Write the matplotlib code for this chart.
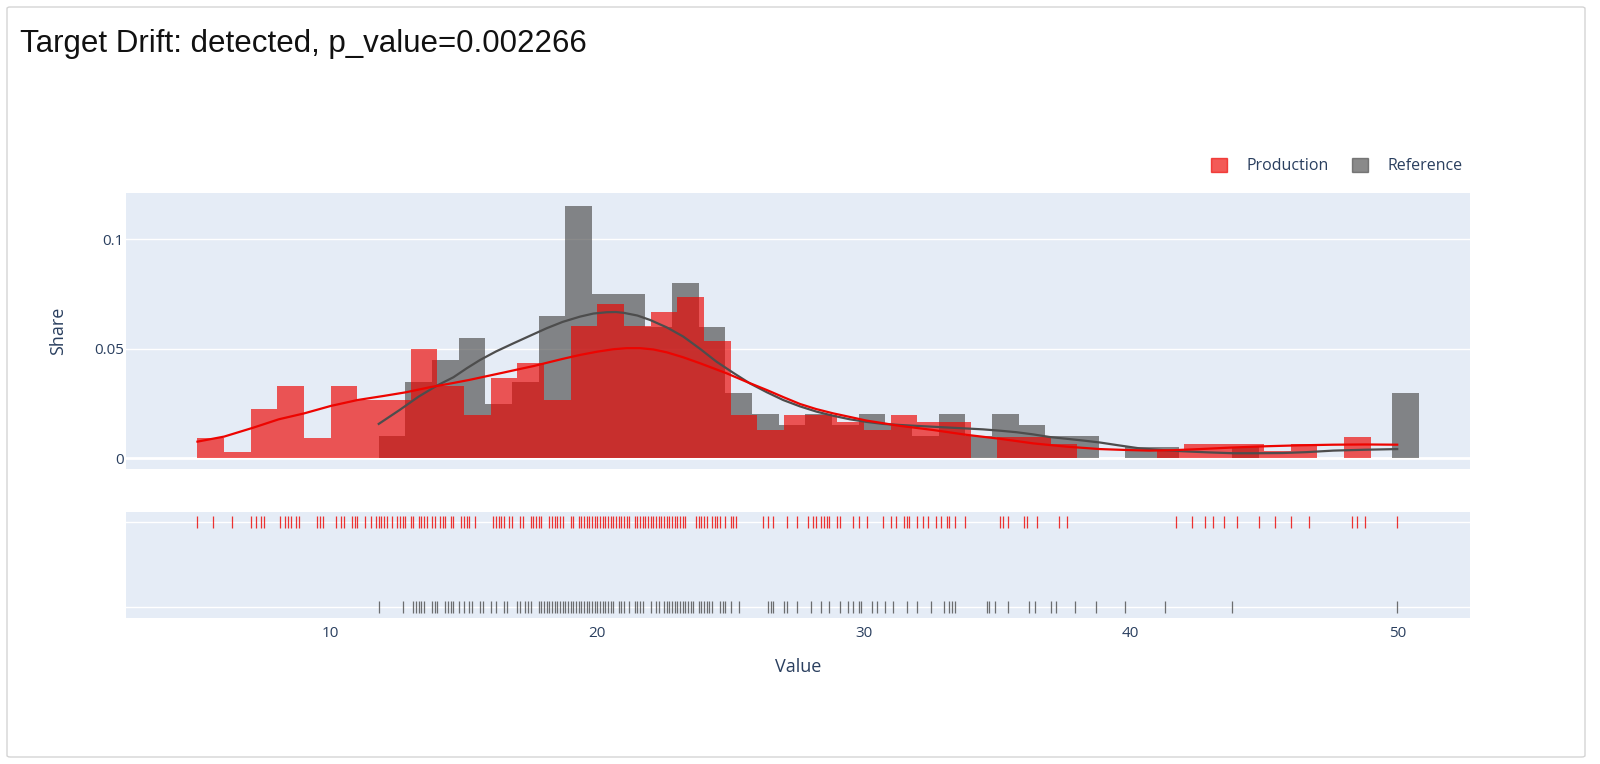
import numpy as np
import matplotlib
matplotlib.use('Agg')
import matplotlib.pyplot as plt
from matplotlib.patches import Patch, FancyBboxPatch

# histogram shares, bins of width 1
aEdge_production = [5, 6, 7, 8, 9, 10, 11, 12, 13, 14, 15, 16, 17, 18, 19, 20, 21, 22,
                    23, 24, 25, 26, 27, 28, 29, 30, 31, 32, 33, 34, 35, 36, 37, 38, 39,
                    40, 41, 42, 43, 44, 45, 46, 47, 48, 49]
aShare_production = [0.0094, 0.0029, 0.0227, 0.033, 0.0094, 0.033, 0.0266, 0.0266, 0.0499,
                     0.033, 0.0198, 0.0368, 0.0434, 0.0266, 0.0604, 0.0705, 0.0606, 0.067,
                     0.0738, 0.0537, 0.0198, 0.0128, 0.0198, 0.0196, 0.0164, 0.0128, 0.0198,
                     0.0164, 0.0164, 0.0, 0.0097, 0.0097, 0.0065, 0.0, 0.0, 0.0, 0.0033,
                     0.0065, 0.0065, 0.0065, 0.0033, 0.0065, 0.0, 0.0098, 0.0]

aEdge_reference = [11.8, 12.8, 13.8, 14.8, 15.8, 16.8, 17.8, 18.8, 19.8, 20.8, 21.8, 22.8,
                   23.8, 24.8, 25.8, 26.8, 27.8, 28.8, 29.8, 30.8, 31.8, 32.8, 33.8, 34.8,
                   35.8, 36.8, 37.8, 38.8, 39.8, 40.8, 41.8, 42.8, 43.8, 44.8, 45.8, 46.8,
                   47.8, 48.8, 49.8]
aShare_reference = [0.01, 0.035, 0.045, 0.055, 0.025, 0.035, 0.065, 0.115, 0.075, 0.075,
                    0.06, 0.08, 0.06, 0.03, 0.02, 0.015, 0.02, 0.015, 0.02, 0.015, 0.01,
                    0.02, 0.01, 0.02, 0.015, 0.01, 0.01, 0.0, 0.005, 0.005, 0.0, 0.0,
                    0.005, 0.0, 0.0, 0.0, 0.0, 0.0, 0.03]

# density curves
aKde_x_production = [5.0, 6.0, 7.1, 8.05, 9.0, 10.0, 11.0, 12.0, 12.8, 13.7, 14.6, 15.2,
                     15.85, 16.5, 17.1, 17.6, 18.1, 18.7, 19.35, 20.0, 20.6, 21.1, 21.6,
                     22.1, 22.6, 23.2, 23.85, 24.35, 24.85, 25.6, 26.35, 27.0, 27.6, 28.2,
                     28.85, 29.5, 30.1, 31.35, 32.6, 33.85, 35.1, 36.35, 37.6, 38.85, 39.8,
                     40.7, 41.6, 42.6, 43.8, 45.1, 46.3, 47.6, 48.8, 50.0]
aKde_y_production = [0.0076, 0.0099, 0.014, 0.0178, 0.0205, 0.0239, 0.0266, 0.0285, 0.0301,
                     0.0324, 0.0344, 0.0358, 0.0375, 0.0392, 0.0408, 0.0421, 0.0436, 0.0454,
                     0.0472, 0.0487, 0.0498, 0.0503, 0.0503, 0.0497, 0.0484, 0.0462, 0.0434,
                     0.0411, 0.0388, 0.0349, 0.0312, 0.0278, 0.0248, 0.0225, 0.0205, 0.0188,
                     0.0172, 0.0148, 0.0129, 0.0107, 0.0089, 0.0068, 0.0053, 0.0042, 0.0038,
                     0.0035, 0.0037, 0.0042, 0.0049, 0.0055, 0.0059, 0.0062, 0.0063, 0.0062]

aKde_x_reference = [11.8, 12.6, 13.3, 14.0, 14.6, 15.1, 15.6, 16.2, 16.85, 17.5, 18.1, 18.7,
                    19.35, 19.85, 20.35, 20.7, 21.0, 21.5, 21.97, 22.6, 23.22, 23.85, 24.47,
                    25.1, 25.72, 26.35, 26.97, 27.6, 28.22, 28.85, 29.47, 30.1, 30.72, 31.35,
                    31.97, 32.6, 33.22, 33.85, 34.47, 35.1, 35.72, 36.35, 36.97, 37.6, 38.22,
                    38.85, 39.5, 40.35, 41.1, 41.97, 42.9, 43.85, 44.8, 45.7, 46.6, 47.6,
                    48.8, 50.0]
aKde_y_reference = [0.0157, 0.0222, 0.0282, 0.0333, 0.037, 0.0411, 0.0449, 0.0488, 0.0525,
                    0.0561, 0.0594, 0.0623, 0.0647, 0.0661, 0.0667, 0.0668, 0.0664, 0.0652,
                    0.0632, 0.0598, 0.0556, 0.05, 0.0441, 0.039, 0.0342, 0.0302, 0.0266,
                    0.0237, 0.0213, 0.0194, 0.0178, 0.0166, 0.0157, 0.0152, 0.0148, 0.0144,
                    0.014, 0.0136, 0.0132, 0.0126, 0.0119, 0.0109, 0.0097, 0.0089, 0.0081,
                    0.0072, 0.006, 0.0045, 0.0038, 0.0032, 0.0027, 0.0023, 0.0023, 0.0024,
                    0.0028, 0.0035, 0.0039, 0.0042]

# rug values
aRug_production = [5.0, 5.6, 6.3, 7.0, 7.2, 7.4, 7.5, 8.1, 8.3, 8.4, 8.5, 8.7, 8.8, 9.5,
                   9.6, 9.7, 10.2, 10.4, 10.5, 10.8, 10.9, 11.0, 11.3, 11.5, 11.7, 11.8,
                   11.9, 12.0, 12.1, 12.3, 12.5, 12.6, 12.7, 12.8, 13.0, 13.1, 13.3, 13.4,
                   13.5, 13.6, 13.8, 13.9, 14.1, 14.2, 14.3, 14.5, 14.6, 14.9, 15.0, 15.1,
                   15.2, 15.4, 16.1, 16.2, 16.3, 16.4, 16.5, 16.7, 16.8, 17.1, 17.2, 17.5,
                   17.6, 17.7, 17.8, 17.9, 18.2, 18.3, 18.4, 18.5, 18.6, 18.7, 19.0, 19.1,
                   19.3, 19.4, 19.5, 19.6, 19.7, 19.8, 19.9, 20.0, 20.1, 20.2, 20.3, 20.4,
                   20.5, 20.6, 20.7, 20.8, 20.9, 21.0, 21.1, 21.2, 21.4, 21.5, 21.6, 21.7,
                   21.8, 21.9, 22.0, 22.1, 22.2, 22.3, 22.4, 22.5, 22.6, 22.7, 22.8, 22.9,
                   23.0, 23.1, 23.2, 23.3, 23.7, 23.8, 23.9, 24.0, 24.1, 24.3, 24.4, 24.5,
                   24.6, 24.8, 25.0, 25.1, 25.2, 26.2, 26.4, 26.6, 27.1, 27.5, 27.9, 28.1,
                   28.2, 28.4, 28.5, 28.6, 28.7, 29.0, 29.1, 29.6, 29.8, 30.1, 30.7, 31.0,
                   31.2, 31.5, 31.6, 31.7, 32.0, 32.2, 32.4, 32.7, 32.9, 33.1, 33.2, 33.4,
                   33.8, 35.1, 35.2, 35.4, 36.0, 36.1, 36.5, 37.3, 37.6, 41.7, 42.3, 42.8,
                   43.1, 43.5, 44.0, 44.8, 45.4, 46.0, 46.7, 48.3, 48.5, 48.8, 50.0]
aRug_reference = [11.8, 12.7, 13.1, 13.2, 13.3, 13.4, 13.5, 13.8, 13.9, 14.0, 14.3, 14.4,
                  14.5, 14.6, 14.8, 15.0, 15.2, 15.3, 15.6, 15.7, 16.0, 16.2, 16.5, 16.6,
                  17.0, 17.1, 17.3, 17.4, 17.5, 17.8, 17.9, 18.0, 18.1, 18.2, 18.3, 18.4,
                  18.5, 18.6, 18.7, 18.8, 18.9, 19.0, 19.1, 19.2, 19.3, 19.4, 19.5, 19.6,
                  19.7, 19.8, 19.9, 20.0, 20.1, 20.2, 20.3, 20.4, 20.5, 20.6, 20.8, 20.9,
                  21.0, 21.2, 21.4, 21.5, 21.6, 21.7, 22.0, 22.2, 22.3, 22.5, 22.6, 22.7,
                  22.8, 22.9, 23.0, 23.1, 23.2, 23.3, 23.4, 23.5, 23.6, 23.8, 23.9, 24.0,
                  24.1, 24.2, 24.3, 24.6, 24.7, 24.8, 25.0, 25.3, 26.4, 26.5, 26.6, 27.0,
                  27.1, 27.5, 28.0, 28.4, 28.7, 29.1, 29.4, 29.6, 29.8, 29.9, 30.3, 30.5,
                  30.8, 31.1, 31.6, 32.0, 32.5, 33.0, 33.2, 33.3, 33.4, 34.6, 34.7, 34.9,
                  35.4, 36.2, 36.4, 37.0, 37.2, 37.9, 38.7, 39.8, 41.3, 43.8, 50.0]

aTick_x = [10, 20, 30, 40, 50]
aTick_y = [0, 0.05, 0.1]
aTick_label_y = ['0', '0.05', '0.1']
aLabel = ['Production', 'Reference']

sColor_production = '#ed0400'
sColor_reference = '#4d4d4d'
sColor_bg = '#e5ecf6'
sColor_text = '#2a3f5f'
dAlpha = 0.66

plt.rcParams['font.family'] = ['Open Sans', 'DejaVu Sans']

fig = plt.figure(figsize=(16, 7.64), dpi=100)
W, H = 1600.0, 764.0

# card border
fig.patches.append(FancyBboxPatch((7 / W, 7 / H), 1578 / W, 750 / H,
                                  boxstyle='round,pad=0,rounding_size=0.002',
                                  transform=fig.transFigure, facecolor='white',
                                  edgecolor='#d4d4d4', linewidth=1.0, zorder=-10))

ax = fig.add_axes([126 / W, 1 - 469 / H, 1344 / W, 276.3 / H])
ax_rug = fig.add_axes([126 / W, 1 - 617.7 / H, 1344 / W, 106 / H], sharex=ax)

for a in (ax, ax_rug):
    a.set_facecolor(sColor_bg)
    for s in a.spines.values():
        s.set_visible(False)
    a.tick_params(length=0, colors=sColor_text, labelsize=11)

# main histogram panel
for yv in aTick_y[1:]:
    ax.axhline(yv, color='white', linewidth=1.0, zorder=0)
ax.axhline(0, color='white', linewidth=2.0, zorder=0)

ax.bar(aEdge_reference, aShare_reference, width=1.0, align='edge',
       color=sColor_reference, alpha=dAlpha, linewidth=0, zorder=2)
ax.bar(aEdge_production, aShare_production, width=1.0, align='edge',
       color=sColor_production, alpha=dAlpha, linewidth=0, zorder=3)

ax.plot(aKde_x_reference, aKde_y_reference, color=sColor_reference, linewidth=1.6, zorder=4)
ax.plot(aKde_x_production, aKde_y_production, color=sColor_production, linewidth=1.6, zorder=5)

ax.set_xlim(2.32, 52.73)
ax.set_ylim(-0.0049, 0.1213)
ax.set_yticks(aTick_y)
ax.set_yticklabels(aTick_label_y)
ax.tick_params(axis='y', pad=1.5)
ax.tick_params(axis='x', labelbottom=False)
ax.set_ylabel('Share', fontsize=13, color=sColor_text, labelpad=19.5)

# rug panel
ax_rug.axhline(0, color='white', linewidth=1.0, zorder=0)
ax_rug.axhline(1, color='white', linewidth=1.0, zorder=0)
ax_rug.plot(aRug_production, [1] * len(aRug_production), linestyle='none', marker='|',
            markersize=8.5, markeredgewidth=0.9, color=sColor_production, alpha=0.8, zorder=3)
ax_rug.plot(aRug_reference, [0] * len(aRug_reference), linestyle='none', marker='|',
            markersize=8.5, markeredgewidth=0.9, color=sColor_reference, alpha=0.8, zorder=3)
ax_rug.set_ylim(-0.13, 1.12)
ax_rug.set_yticks([])
ax_rug.set_xticks(aTick_x)
ax_rug.tick_params(axis='x', pad=6)
ax_rug.set_xlabel('Value', fontsize=13, color=sColor_text, labelpad=12)

# legend
aHandle = [Patch(facecolor=sColor_production, edgecolor=sColor_production, alpha=dAlpha),
           Patch(facecolor=sColor_reference, edgecolor=sColor_reference, alpha=dAlpha)]
fig.legend(aHandle, aLabel, loc='center right', bbox_to_anchor=(1477 / W, 1 - 166 / H),
           ncol=2, frameon=False, fontsize=11.5, handlelength=1.0, handleheight=1.0,
           handletextpad=1.2, columnspacing=1.5, labelcolor=sColor_text)

fig.text(20 / W, 1 - 44 / H, 'Target Drift: detected, p_value=0.002266',
         fontsize=22.5, family=['Liberation Sans', 'DejaVu Sans'], color='#111111',
         va='center', ha='left')

fig.savefig('out.png', dpi=100)
